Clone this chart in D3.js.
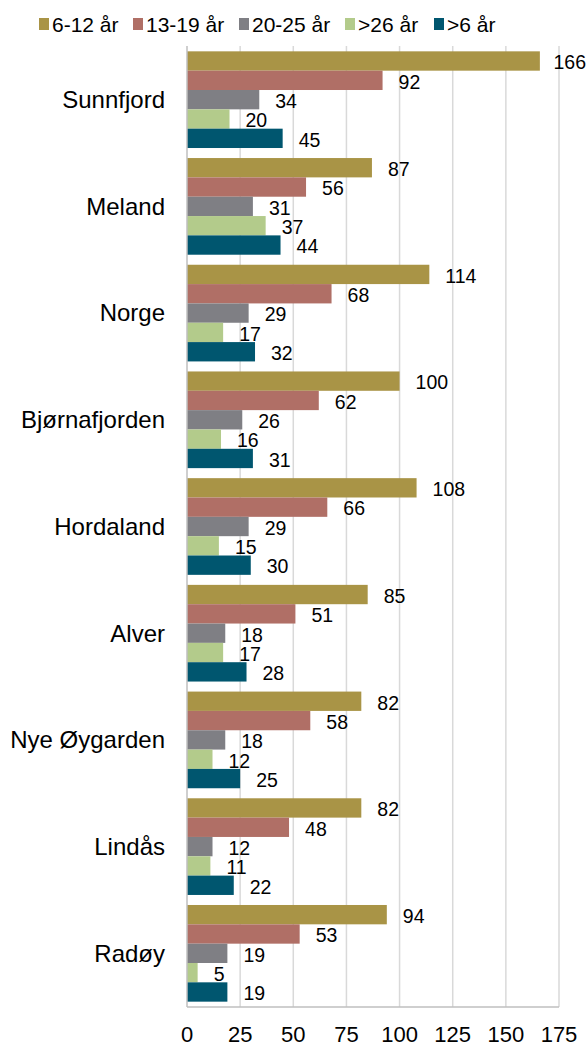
<!DOCTYPE html>
<html>
<head>
<meta charset="utf-8">
<script src="https://cdn.jsdelivr.net/npm/d3@7"></script>
<style>
  body { margin: 0; background: #fff; overflow: hidden; }
  svg { display: block; }
  text { font-family: "Liberation Sans", Arial, sans-serif; fill: #000; }
</style>
</head>
<body>
<div id="chart"></div>
<script>
// data
var regions = ["Sunnfjord", "Meland", "Norge", "Bjørnafjorden", "Hordaland", "Alver", "Nye Øygarden", "Lindås", "Radøy"];
var seriesNames = ["6-12 år", "13-19 år", "20-25 år", ">26 år", ">6 år"];
var seriesColors = ["#A99446", "#B06F66", "#7F7F84", "#B3CB8B", "#00566F"];
var age6to12 = [166, 87, 114, 100, 108, 85, 82, 82, 94];
var age13to19 = [92, 56, 68, 62, 66, 51, 58, 48, 53];
var age20to25 = [34, 31, 29, 26, 29, 18, 18, 12, 19];
var ageOver26 = [20, 37, 17, 16, 15, 17, 12, 11, 5];
var ageOver6 = [45, 44, 32, 31, 30, 28, 25, 22, 19];
var xTicks = [0, 25, 50, 75, 100, 125, 150, 175];

var seriesValues = [age6to12, age13to19, age20to25, ageOver26, ageOver6];

var width = 587, height = 1046;
var margin = { top: 46, right: 28, bottom: 39, left: 187 };
var plotW = width - margin.left - margin.right;
var plotH = height - margin.top - margin.bottom;

var svg = d3.select("#chart").append("svg")
    .attr("width", width)
    .attr("height", height);

var g = svg.append("g")
    .attr("transform", "translate(" + margin.left + "," + margin.top + ")");

// scales
var x = d3.scaleLinear()
    .domain([0, 175])
    .range([0, 372]);

var y = d3.scaleBand()
    .domain(regions)
    .range([0, plotH])
    .paddingInner(0.094)
    .paddingOuter(0.05);

var ySub = d3.scaleBand()
    .domain(seriesNames)
    .range([0, y.bandwidth()]);

// gridlines
g.append("g")
    .selectAll("line")
    .data(xTicks.slice(1))
    .enter().append("line")
    .attr("x1", function(d) { return x(d); })
    .attr("x2", function(d) { return x(d); })
    .attr("y1", 0)
    .attr("y2", plotH)
    .attr("stroke", "#d9d9d9")
    .attr("stroke-width", 1.5);

// bars
var groups = g.selectAll(".group")
    .data(regions)
    .enter().append("g")
    .attr("class", "group")
    .attr("transform", function(d) { return "translate(0," + y(d) + ")"; });

groups.each(function(region, ri) {
  var grp = d3.select(this);
  var rows = seriesNames.map(function(s, si) {
    return { name: s, value: seriesValues[si][ri], color: seriesColors[si] };
  });

  grp.selectAll("rect")
      .data(rows)
      .enter().append("rect")
      .attr("x", 0)
      .attr("y", function(d) { return ySub(d.name); })
      .attr("width", function(d) { return x(d.value); })
      .attr("height", ySub.bandwidth())
      .attr("fill", function(d) { return d.color; });

  grp.selectAll(".val")
      .data(rows)
      .enter().append("text")
      .attr("class", "val")
      .attr("x", function(d) { return x(d.value) + 16; })
      .attr("y", function(d) { return ySub(d.name) + ySub.bandwidth() / 2 + 1.5; })
      .attr("dy", "0.35em")
      .style("font-size", "19.5px")
      .text(function(d) { return d.value; })
      .each(function() {
        // keep labels inside the page
        var t = d3.select(this);
        var w = this.getComputedTextLength();
        var maxX = width - margin.left - 1 - w;
        if (+t.attr("x") > maxX) t.attr("x", maxX);
      });
});

// axes lines (left and bottom)
g.append("line")
    .attr("x1", 0).attr("x2", 0)
    .attr("y1", 0).attr("y2", plotH)
    .attr("stroke", "#bfbfbf").attr("stroke-width", 1.5);
g.append("line")
    .attr("x1", 0).attr("x2", x(175))
    .attr("y1", plotH).attr("y2", plotH)
    .attr("stroke", "#bfbfbf").attr("stroke-width", 1.5);

// category labels
g.selectAll(".cat")
    .data(regions)
    .enter().append("text")
    .attr("class", "cat")
    .attr("x", -22)
    .attr("y", function(d) { return y(d) + y.bandwidth() / 2; })
    .attr("dy", "0.35em")
    .attr("text-anchor", "end")
    .style("font-size", "24px")
    .text(function(d) { return d; });

// x tick labels
g.selectAll(".tick-label")
    .data(xTicks)
    .enter().append("text")
    .attr("class", "tick-label")
    .attr("x", function(d) { return x(d); })
    .attr("y", plotH + 27)
    .attr("dy", "0.35em")
    .attr("text-anchor", "middle")
    .style("font-size", "22px")
    .text(function(d) { return d; });

// legend
var legendX = [39, 133, 239, 345, 434];
var legend = svg.selectAll(".legend")
    .data(seriesNames)
    .enter().append("g")
    .attr("class", "legend")
    .attr("transform", function(d, i) { return "translate(" + legendX[i] + ",18)"; });

legend.append("rect")
    .attr("width", 10)
    .attr("height", 12)
    .attr("fill", function(d, i) { return seriesColors[i]; });

legend.append("text")
    .attr("x", 13)
    .attr("y", 6.5)
    .attr("dy", "0.35em")
    .style("font-size", "21px")
    .text(function(d) { return d; });
</script>
</body>
</html>
